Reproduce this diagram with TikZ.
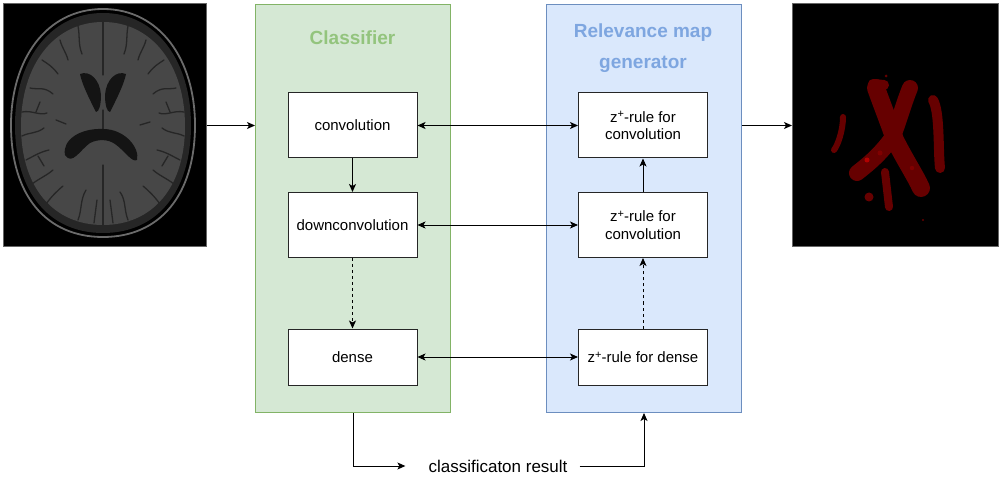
\documentclass[tikz,border=0pt]{standalone}
\usepackage{fontspec}
\setmainfont{Liberation Sans}
\usetikzlibrary{arrows.meta}
\definecolor{gfill}{HTML}{D5E8D4}
\definecolor{gdraw}{HTML}{82B366}
\definecolor{bfill}{HTML}{DAE8FC}
\definecolor{bdraw}{HTML}{6C8EBF}
\definecolor{gtext}{HTML}{93C47D}
\definecolor{btext}{HTML}{7EA6E0}
\definecolor{tissue}{HTML}{474747}
\definecolor{relred}{HTML}{660000}
\newcommand{\zplus}{z\raisebox{0.55ex}{\fontsize{11}{11}\selectfont +}}
\tikzset{
  panel/.style={draw, line width=1pt, minimum width=195pt, minimum height=408pt, inner sep=0pt, anchor=north west},
  blk/.style={draw=black!85, fill=white, line width=1pt, minimum width=129pt, minimum height=65pt, inner sep=0pt, align=center, font=\fontsize{15}{17.5}\selectfont},
  ttl/.style={font=\bfseries\fontsize{19}{31}\selectfont, align=center},
  arr/.style={line width=0.9pt, -{Stealth[length=8pt,width=7pt,inset=2pt]}},
  darr/.style={line width=0.9pt, {Stealth[length=8pt,width=7pt,inset=2pt]}-{Stealth[length=8pt,width=7pt,inset=2pt]}},
  sulc/.style={draw=black!85, line width=1.3pt, line cap=round},
  rblob/.style={draw=relred, line width=#1, line cap=round, line join=round},
}
\begin{document}
\begin{tikzpicture}[x=1pt,y=-1pt]
\useasboundingbox (0,0) rectangle (1001,478);
% ---------- brain MRI ----------
\node[draw=black!60, fill=black, line width=0.6pt, minimum width=203pt, minimum height=243pt, inner sep=0pt, anchor=north west] (brain) at (3,3) {};
\draw[black!58, line width=1.8pt] (103,9) .. controls (160,9) and (195,60) .. (195,125) .. controls (195,195) and (160,237) .. (103,237) .. controls (46,237) and (11,195) .. (11,125) .. controls (11,60) and (46,9) .. (103,9) -- cycle;
\fill[black!85] (103,13) .. controls (157,13) and (191,62) .. (191,125) .. controls (191,192) and (157,233) .. (103,233) .. controls (49,233) and (15,192) .. (15,125) .. controls (15,62) and (49,13) .. (103,13) -- cycle;
\fill[tissue] (103,22) .. controls (152,22) and (185,65) .. (185,126) .. controls (185,188) and (152,225) .. (103,225) .. controls (54,225) and (21,188) .. (21,126) .. controls (21,65) and (54,22) .. (103,22) -- cycle;
% sulci
\draw[sulc] (22,112) .. controls (32,110) and (40,116) .. (47,113);
\draw[sulc] (36,112) -- (40,102);
\draw[sulc] (22,136) .. controls (30,132) and (36,134) .. (44,128);
\draw[sulc] (26,160) .. controls (34,156) and (40,152) .. (49,150);
\draw[sulc] (38,156) -- (44,166);
\draw[sulc] (30,88) .. controls (38,90) and (44,86) .. (53,94);
\draw[sulc] (42,60) .. controls (48,64) and (52,66) .. (58,74);
\draw[sulc] (32,184) .. controls (40,178) and (46,176) .. (53,170);
\draw[sulc] (46,204) .. controls (52,196) and (56,192) .. (63,186);
\draw[sulc] (60,40) .. controls (62,48) and (66,52) .. (68,60);
\draw[sulc] (184,112) .. controls (174,110) and (166,116) .. (159,113);
\draw[sulc] (170,112) -- (166,102);
\draw[sulc] (184,136) .. controls (176,132) and (170,134) .. (162,128);
\draw[sulc] (180,160) .. controls (172,156) and (166,152) .. (157,150);
\draw[sulc] (168,156) -- (162,166);
\draw[sulc] (176,88) .. controls (168,90) and (162,86) .. (153,94);
\draw[sulc] (164,60) .. controls (158,64) and (154,66) .. (148,74);
\draw[sulc] (174,184) .. controls (166,178) and (160,176) .. (153,170);
\draw[sulc] (160,204) .. controls (154,196) and (150,192) .. (143,186);
\draw[sulc] (146,40) .. controls (144,48) and (140,52) .. (138,60);
\draw[sulc] (78,26) .. controls (80,36) and (78,44) .. (82,54);
\draw[sulc] (128,26) .. controls (126,36) and (128,44) .. (124,54);
\draw[sulc] (78,220) .. controls (82,210) and (80,200) .. (86,190);
\draw[sulc] (128,220) .. controls (124,210) and (126,200) .. (120,192);
\draw[sulc] (94,223) -- (97,200);
\draw[sulc] (113,223) -- (110,200);
\draw[sulc] (56,120) -- (66,124);
\draw[sulc] (150,122) -- (140,125);
\draw[sulc, line width=1.1pt] (103,22) -- (103,75);
\draw[sulc, line width=1.1pt] (103,165) -- (103,225);
\draw[sulc, line width=1.1pt] (103,110) -- (103,135);
% ventricles
\fill[black!92] (80,74) .. controls (90,70) and (100,80) .. (101,95) .. controls (101,105) and (99,112) .. (96,112) .. controls (92,104) and (82,85) .. (80,74) -- cycle;
\fill[black!92] (126,74) .. controls (116,70) and (106,80) .. (105,95) .. controls (105,105) and (107,112) .. (110,112) .. controls (114,104) and (124,85) .. (126,74) -- cycle;
\fill[black!92] (65,155) .. controls (62,140) and (80,128) .. (103,129) .. controls (125,129) and (140,148) .. (137,160) .. controls (132,163) and (125,151) .. (115,144) .. controls (108,139) and (98,139) .. (90,143) .. controls (80,150) and (72,166) .. (65,155) -- cycle;
% ---------- relevance map ----------
\node[draw=black!60, fill=black, line width=0.6pt, minimum width=206pt, minimum height=243pt, inner sep=0pt, anchor=north west] (map) at (792,3) {};
\draw[rblob=18pt] (876,88) .. controls (884,110) and (890,125) .. (895,140) .. controls (905,160) and (915,175) .. (921,188);
\draw[rblob=16pt] (910,88) .. controls (903,105) and (898,125) .. (892,138) .. controls (880,155) and (866,166) .. (857,173);
\draw[rblob=10pt] (873,84) -- (884,85);
\draw[rblob=10pt] (933,100) .. controls (940,112) and (938,150) .. (940,168);
\draw[rblob=6pt] (843,117) .. controls (843,130) and (838,145) .. (834,150);
\draw[rblob=8pt] (885,172) -- (889,207);
\fill[relred] (869,197) circle (4.5);
\fill[relred] (886,76) circle (1.5);
\fill[relred] (923,220) circle (1.2);
\fill[red!70!black] (867,160) circle (2.5);
\fill[red!50!black] (880,153) circle (2.5);
\fill[red!50!black] (912,168) circle (2.2);
% ---------- panels ----------
\node[panel, fill=gfill, draw=gdraw] (cls) at (255,4) {};
\node[panel, fill=bfill, draw=bdraw] (rel) at (546,4) {};
\node[ttl, text=gtext] (clst) at (352.5,38) {Classifier};
\node[ttl, text=btext] (relt) at (643,48) {Relevance map\\generator};
% ---------- blocks ----------
\node[blk] (conv) at (352.5,125.5) {convolution};
\node[blk] (down) at (352.5,225) {downconvolution};
\node[blk, minimum height=56pt] (dense) at (352.5,357) {dense};
\node[blk] (rconv) at (643,125.5) {\zplus-rule for\\convolution};
\node[blk] (rdown) at (643,225) {\zplus-rule for\\convolution};
\node[blk, minimum height=56pt] (rdense) at (643,357) {\zplus-rule for dense};
% ---------- connectors ----------
\draw[arr] (brain.east |- conv.west) -- (cls.west |- conv.west);
\draw[arr] (rel.east |- rconv.east) -- (map.west |- rconv.east);
\draw[darr] (conv) -- (rconv);
\draw[darr] (down) -- (rdown);
\draw[darr] (dense) -- (rdense);
\draw[arr] (conv) -- (down);
\draw[arr, dashed] (down) -- (dense);
\draw[arr, dashed] (rdense) -- (rdown);
\draw[arr] (rdown) -- (rconv);
\node[inner sep=0pt, font=\fontsize{17}{20}\selectfont] (res) at (498,466) {classificaton result};
\coordinate (resin) at ([xshift=-23pt]res.west);
\coordinate (resout) at ([xshift=12pt]res.east);
\draw[arr] (cls.south) |- (resin);
\draw[arr] (resout) -| (rel.south);
\end{tikzpicture}
\end{document}
